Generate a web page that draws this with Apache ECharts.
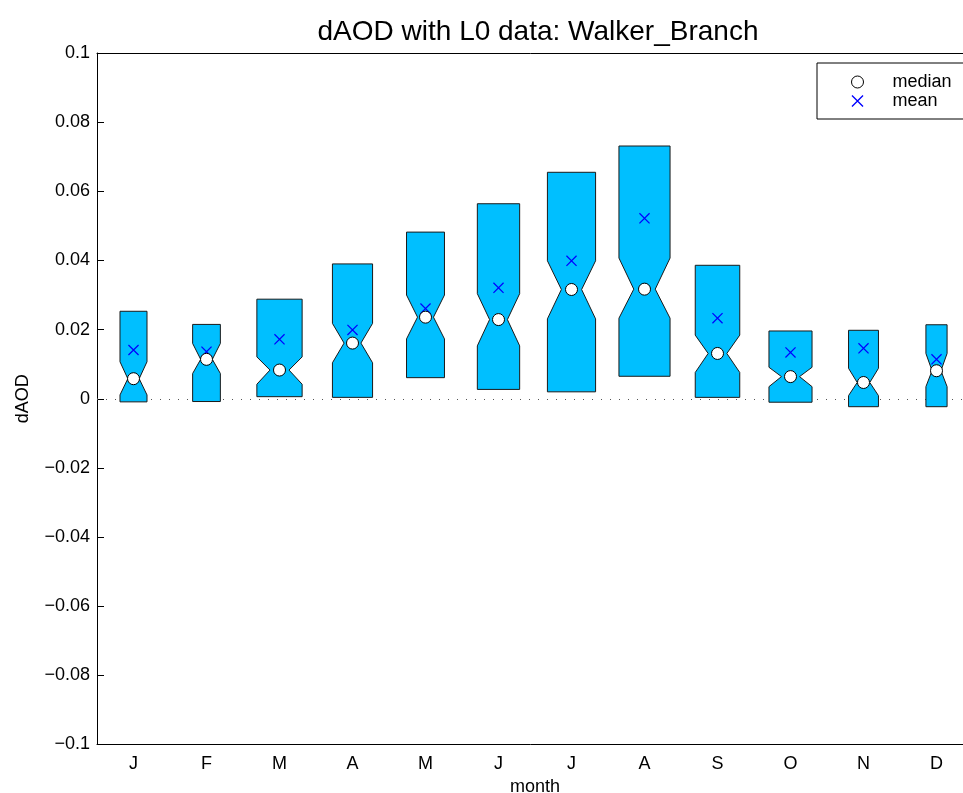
<!DOCTYPE html>
<html>
<head>
<meta charset="utf-8">
<script src="https://cdn.jsdelivr.net/npm/echarts@6/dist/echarts.min.js"></script>
<style>
  html, body { margin: 0; padding: 0; background: #fff; }
  #chart { width: 963px; height: 793px; }
</style>
</head>
<body>
<div id="chart"></div>
<script>
// ---- data ----
var months      = ['J','F','M','A','M','J','J','A','S','O','N','D'];
var boxTop      = [0.0253, 0.0215, 0.0288, 0.0390, 0.0482, 0.0564, 0.0655, 0.0731, 0.0386, 0.0196, 0.0198, 0.0214];
var boxBottom   = [-0.0009, -0.0008, 0.0006, 0.0004, 0.0061, 0.0027, 0.0020, 0.0065, 0.0004, -0.0010, -0.0023, -0.0023];
var medians     = [0.0058, 0.0114, 0.0083, 0.0161, 0.0236, 0.0229, 0.0316, 0.0317, 0.0131, 0.0064, 0.0047, 0.0081];
var means       = [0.0141, 0.0136, 0.0172, 0.0199, 0.0261, 0.0321, 0.0399, 0.0522, 0.0233, 0.0134, 0.0146, 0.0114];
var notchHigh   = [0.0107, 0.0160, 0.0121, 0.0218, 0.0300, 0.0304, 0.0399, 0.0407, 0.0184, 0.0091, 0.0088, 0.0131];
var notchLow    = [0.0011, 0.0073, 0.0042, 0.0104, 0.0173, 0.0153, 0.0231, 0.0233, 0.0076, 0.0035, 0.0009, 0.0035];
var boxWidthRel = [0.37, 0.38, 0.62, 0.55, 0.52, 0.58, 0.66, 0.70, 0.61, 0.59, 0.41, 0.29];
var yTickMin = -0.1, yTickMax = 0.1, yTickStep = 0.02;

var FONT = "'Liberation Sans', Arial, Helvetica, sans-serif";

var boxData = months.map(function (m, i) {
  return [i, boxBottom[i], notchLow[i], medians[i], notchHigh[i], boxTop[i], boxWidthRel[i]];
});

function renderBox(params, api) {
  var i = api.value(0);
  var bot = api.value(1), nLo = api.value(2), med = api.value(3), nHi = api.value(4), top = api.value(5), wRel = api.value(6);
  var cx = api.coord([i, 0])[0];
  var band = api.size([1, 0])[0];
  var hw = wRel * band / 2;
  var nw = hw * 0.42;
  function y(v) { return api.coord([i, v])[1]; }
  var pts = [
    [cx - hw, y(top)], [cx + hw, y(top)], [cx + hw, y(nHi)], [cx + nw, y(med)],
    [cx + hw, y(nLo)], [cx + hw, y(bot)], [cx - hw, y(bot)], [cx - hw, y(nLo)],
    [cx - nw, y(med)], [cx - hw, y(nHi)]
  ];
  return {
    type: 'polygon',
    shape: { points: pts },
    style: { fill: '#00BFFF', stroke: '#1a1a1a', lineWidth: 1 }
  };
}

var chart = echarts.init(document.getElementById('chart'), null, { renderer: 'canvas' });
var xMark = 'path://M0,0.8L0.8,0L10,9.2L9.2,10Z M9.2,0L10,0.8L0.8,10L0,9.2Z';

chart.setOption({
  animation: false,
  backgroundColor: '#fff',
  textStyle: { fontFamily: FONT },
  title: {
    text: 'dAOD with L0 data: Walker_Branch',
    left: 533, top: 13, textAlign: 'center',
    textStyle: { fontFamily: FONT, fontSize: 28, fontWeight: 'normal', color: '#000' }
  },
  legend: {
    orient: 'vertical',
    left: 817, top: 63,
    backgroundColor: '#fff',
    borderColor: '#000', borderWidth: 1, borderRadius: 0,
    padding: [10, 60, 9, 34],
    itemGap: 1,
    itemWidth: 12, itemHeight: 12,
    textStyle: { fontFamily: FONT, fontSize: 18, lineHeight: 18, color: '#000', padding: [0, 0, 0, 24] },
    data: [
      { name: 'median', icon: 'circle', itemStyle: { color: '#fff', borderColor: '#000', borderWidth: 1, opacity: 1 } },
      { name: 'mean', icon: xMark, itemStyle: { color: '#0000ff', borderWidth: 0, opacity: 1 } }
    ]
  },
  grid: { left: 97, top: 53, width: 876, height: 691.5, containLabel: false, outerBoundsMode: 'none' },
  xAxis: [{
    type: 'category',
    data: months,
    boundaryGap: true,
    position: 'bottom',
    name: 'month', nameLocation: 'middle', nameGap: 24,
    nameTextStyle: { fontFamily: FONT, fontSize: 18, color: '#000' },
    axisLine: { onZero: false, lineStyle: { color: '#000', width: 1 } },
    axisTick: { inside: true, alignWithLabel: true, length: 8, lineStyle: { color: '#000' } },
    axisLabel: { fontFamily: FONT, fontSize: 18, color: '#000', margin: 11 },
    splitLine: { show: false }
  }, {
    type: 'category',
    data: months,
    boundaryGap: true,
    position: 'top',
    axisLine: { onZero: false, lineStyle: { color: '#000', width: 1 } },
    axisTick: { inside: true, alignWithLabel: true, length: 8, lineStyle: { color: '#000' } },
    axisLabel: { show: false },
    splitLine: { show: false }
  }],
  yAxis: [{
    type: 'value',
    min: yTickMin, max: yTickMax, interval: yTickStep,
    name: 'dAOD', nameLocation: 'middle', nameGap: 65, nameRotate: 90,
    nameTextStyle: { fontFamily: FONT, fontSize: 18, color: '#000' },
    axisLine: { show: true, onZero: false, lineStyle: { color: '#000', width: 1 } },
    axisTick: { show: true, inside: true, length: 7, lineStyle: { color: '#000' } },
    axisLabel: {
      fontFamily: FONT, fontSize: 18, color: '#000', margin: 7,
      formatter: function (v) {
        if (Math.abs(v) < 1e-9) return '0';
        var s = String(+v.toFixed(2));
        return s.replace('-', '\u2212');
      }
    },
    splitLine: { show: false }
  }],
  series: [{
    type: 'custom',
    name: 'box',
    renderItem: renderBox,
    encode: { x: 0, y: [1, 2, 3, 4, 5] },
    data: boxData,
    z: 2,
    markLine: {
      silent: true,
      symbol: 'none',
      label: { show: false },
      lineStyle: { color: '#555', width: 1, type: [1, 8] },
      data: [{ yAxis: 0 }],
      z: 1
    }
  }, {
    type: 'scatter',
    name: 'mean',
    symbol: xMark,
    symbolSize: 11,
    itemStyle: { color: '#0000ff', borderWidth: 0, opacity: 1 },
    data: means.map(function (v, i) { return [i, v]; }),
    z: 3
  }, {
    type: 'scatter',
    name: 'median',
    symbol: 'circle',
    symbolSize: 12,
    itemStyle: { color: '#fff', borderColor: '#000', borderWidth: 1, opacity: 1 },
    data: medians.map(function (v, i) { return [i, v]; }),
    z: 4
  }]
});
</script>
</body>
</html>
